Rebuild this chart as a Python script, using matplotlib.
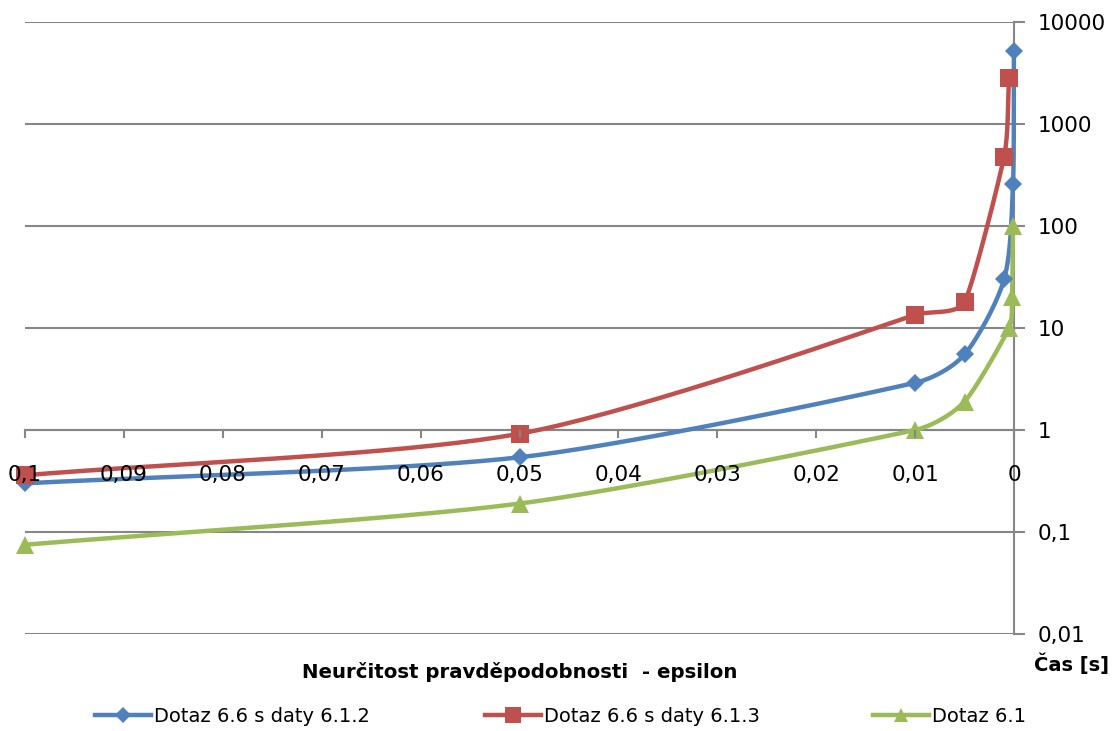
import numpy as np
import matplotlib
matplotlib.use("Agg")
import matplotlib.pyplot as plt
from matplotlib.ticker import FixedLocator, FuncFormatter, NullLocator

plt.rcParams['font.family'] = ['DejaVu Sans']

# epsilon values and measured times [s] for each query
eps_612 = [0.1, 0.05, 0.01, 0.005, 0.001, 0.0001, 0.00001]
time_612 = [0.30, 0.54, 2.9, 5.5, 30, 260, 5200]

eps_613 = [0.1, 0.05, 0.01, 0.005, 0.001, 0.0005]
time_613 = [0.36, 0.92, 13.5, 18, 480, 2800]

eps_61 = [0.1, 0.05, 0.01, 0.005, 0.0005, 0.0002, 0.0001]
time_61 = [0.075, 0.19, 1.0, 1.9, 10, 20, 100]

series_labels = ["Dotaz 6.6 s daty 6.1.2", "Dotaz 6.6 s daty 6.1.3", "Dotaz 6.1"]
series_colors = ["#4F81BD", "#C0504D", "#9BBB59"]
series_markers = ["D", "s", "^"]
marker_sizes = [9, 13.5, 12.5]
legend_x_px = [95, 485, 873]

x_ticks = [0.1, 0.09, 0.08, 0.07, 0.06, 0.05, 0.04, 0.03, 0.02, 0.01, 0.0]
y_ticks = [0.01, 0.1, 1, 10, 100, 1000, 10000]

GRID = "#868686"

W, H = 1120, 731
fig = plt.figure(figsize=(W / 100, H / 100), dpi=100)
ax = fig.add_axes([25 / W, 1 - 634 / H, 989 / W, 612 / H])
ax.set_yscale('log')
ax.set_xlim(0.1, 0.0)
ax.set_ylim(0.01, 10000)


def smooth_curve(ax, xs, ys, k=0.3, n=40):
    """Cubic Bezier smoothing in display space.  Handle lengths are limited
    by the shorter of the two segments meeting at a point, so closely spaced
    points bend sharply instead of overshooting."""
    pts = ax.transData.transform(np.column_stack([xs, ys]))
    m = len(pts)
    seg_len = np.hypot(*(pts[1:] - pts[:-1]).T)
    tang = np.zeros_like(pts)
    for i in range(m):
        a = pts[max(i - 1, 0)]
        b = pts[min(i + 1, m - 1)]
        d = b - a
        tang[i] = d / np.hypot(*d)

    def handle(i, j):
        # handle at point i for segment j, limited by the other segment at i
        other = j - 1 if j == i else j + 1
        L = seg_len[j]
        if 0 <= other < m - 1:
            L = min(L, seg_len[other])
        return L * k

    out = []
    t = np.linspace(0, 1, n)[:, None]
    for i in range(m - 1):
        p1, p2 = pts[i], pts[i + 1]
        c1 = p1 + tang[i] * handle(i, i)
        c2 = p2 - tang[i + 1] * handle(i + 1, i)
        seg = ((1 - t) ** 3) * p1 + 3 * ((1 - t) ** 2) * t * c1 \
            + 3 * (1 - t) * (t ** 2) * c2 + (t ** 3) * p2
        out.append(seg if i == 0 else seg[1:])
    curve = np.vstack(out)
    data = ax.transData.inverted().transform(curve)
    return data[:, 0], data[:, 1]


all_series = [(eps_612, time_612), (eps_613, time_613), (eps_61, time_61)]
handles = []
for (xs, ys), lab, col, mk, ms in zip(all_series, series_labels, series_colors,
                                      series_markers, marker_sizes):
    cx, cy = smooth_curve(ax, xs, ys)
    ax.plot(cx, cy, color=col, lw=3.2, solid_capstyle='round',
            solid_joinstyle='round', clip_on=False, zorder=2)
    ax.plot(xs, ys, linestyle='none', marker=mk, markersize=ms, color=col,
            markeredgewidth=0, clip_on=False, zorder=2.1)
    h, = ax.plot([], [], color=col, lw=3.2, marker=mk, markersize=ms * 0.85,
                 markeredgewidth=0)
    handles.append(h)

# horizontal gridlines below the series, tick labels above them
ax.yaxis.grid(True, which='major', color=GRID, lw=1.5)
ax.yaxis.set_zorder(0.5)
ax.xaxis.set_zorder(3)

for s in ['top', 'left']:
    ax.spines[s].set_visible(False)
ax.spines['right'].set_color(GRID)
ax.spines['right'].set_linewidth(1.5)
ax.spines['right'].set_zorder(1)
ax.spines['bottom'].set_color(GRID)
ax.spines['bottom'].set_linewidth(1.5)
ax.spines['bottom'].set_zorder(1)
ax.spines['bottom'].set_position(('data', 1))

ax.xaxis.set_major_locator(FixedLocator(x_ticks))
ax.xaxis.set_minor_locator(NullLocator())


def comma_fmt(v, pos=None):
    s = f"{v:.2f}".rstrip('0').rstrip('.')
    return s.replace('.', ',')


def comma_fmt_y(v, pos=None):
    if v >= 1:
        return f"{int(round(v))}"
    s = f"{v:.2f}".rstrip('0').rstrip('.')
    return s.replace('.', ',')


ax.xaxis.set_major_formatter(FuncFormatter(comma_fmt))
ax.tick_params(axis='x', direction='out', length=6, width=1.5, color=GRID,
               pad=19, labelsize=15.5, labelcolor='black')

ax.yaxis.tick_right()
ax.yaxis.set_major_locator(FixedLocator(y_ticks))
ax.yaxis.set_minor_locator(NullLocator())
ax.yaxis.set_major_formatter(FuncFormatter(comma_fmt_y))
ax.tick_params(axis='y', which='major', direction='out', length=8, width=1.5,
               color=GRID, pad=9, labelsize=15.5, labelcolor='black',
               left=False, right=True)

fig.text(520 / W, 1 - 672 / H, "Neurčitost pravděpodobnosti  - epsilon",
         ha='center', va='center', fontsize=14.2, fontweight='bold')
fig.text(1034 / W, 1 - 664 / H, "Čas [s]", ha='left', va='center',
         fontsize=14, fontweight='bold')

for h, lab, xp in zip(handles, series_labels, legend_x_px):
    fig.legend([h], [lab], loc='center left', bbox_to_anchor=(xp / W, 1 - 716 / H),
               frameon=False, fontsize=14, handlelength=2.9, handletextpad=0.15,
               borderpad=0, borderaxespad=0)

fig.savefig("out.png", dpi=100)
